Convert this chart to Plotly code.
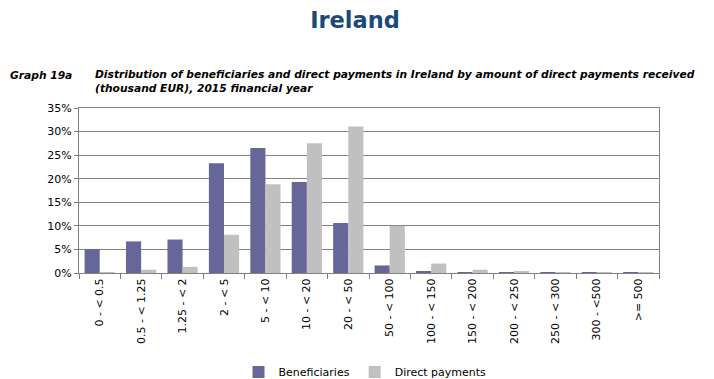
import plotly.graph_objects as go

categories = ["0 - < 0.5", "0.5 - < 1.25", "1.25 - < 2", "2 - < 5", "5 - < 10",
              "10 - < 20", "20 - < 50", "50 - < 100", "100 - < 150", "150 - < 200",
              "200 - < 250", "250 - < 300", "300 - <500", ">= 500"]
beneficiaries = [5.1, 6.7, 7.1, 23.3, 26.5, 19.3, 10.6, 1.6, 0.3, 0.08, 0.03, 0.01, 0.01, 0.01]
direct_payments = [0.2, 0.7, 1.3, 8.1, 18.8, 27.5, 31.1, 10.0, 2.0, 0.7, 0.4, 0.15, 0.15, 0.05]

font = "DejaVu Sans, Verdana, sans-serif"
OFF = 8  # page body margin offset
W, H = 714 - OFF, 379 - OFF
L, T = 79 - OFF, 108 - OFF
pw, ph = 580, 165
R = W - L - pw
B = H - T - ph


def px(x):
    return (x - OFF - L) / pw


def py(y):
    return (T + ph - (y - OFF)) / ph


fig = go.Figure()
fig.add_trace(go.Bar(x=categories, y=[v / 100 for v in beneficiaries], name="Beneficiaries",
                     marker=dict(color="#666699", line=dict(width=0))))
fig.add_trace(go.Bar(x=categories, y=[v / 100 for v in direct_payments], name="Direct payments",
                     marker=dict(color="#C0C0C0", line=dict(width=0))))

fig.update_layout(
    width=W, height=H,
    margin=dict(l=L, r=R, t=T, b=B, autoexpand=False),
    paper_bgcolor="white", plot_bgcolor="white",
    barmode="group", bargap=0.27, bargroupgap=0,
    font=dict(family=font, size=11, color="black"),
    title=dict(text="<b>Ireland</b>", x=(355 - OFF) / W, xref="container", xanchor="center",
               y=1 - (20 - OFF) / H, yref="container", yanchor="middle",
               font=dict(size=22.5, color="#1A4A7A")),
    showlegend=True,
    legend=dict(orientation="h", x=px(365), xanchor="center", y=py(372), yanchor="middle",
                font=dict(size=11), itemwidth=30, tracegroupgap=0),
    xaxis=dict(type="category", tickangle=-90, tickson="boundaries", ticks="outside",
               ticklen=5, tickcolor="#808080", showline=True, linecolor="#808080",
               mirror=True, showgrid=False, tickfont=dict(size=11), automargin=False),
    yaxis=dict(range=[0, 0.35], dtick=0.05, tickformat=".0%", showgrid=True,
               gridcolor="#808080", gridwidth=1, showline=True, linecolor="#808080",
               mirror=True, ticks="outside", ticklen=4, tickcolor="#808080",
               zeroline=False, tickfont=dict(size=11), automargin=False),
    annotations=[
        dict(text="<b><i>Graph 19a</i></b>", x=px(8), y=py(75), xref="paper", yref="paper",
             showarrow=False, xanchor="left", yanchor="middle", font=dict(size=10.7)),
        dict(text="<b><i>Distribution of beneficiaries and direct payments in Ireland by amount of direct payments received<br>(thousand EUR), 2015 financial year</i></b>",
             x=px(93), y=py(81), xref="paper", yref="paper", showarrow=False, xanchor="left",
             yanchor="middle", align="left", font=dict(size=10.7)),
    ],
)

fig.write_html("out.html")
